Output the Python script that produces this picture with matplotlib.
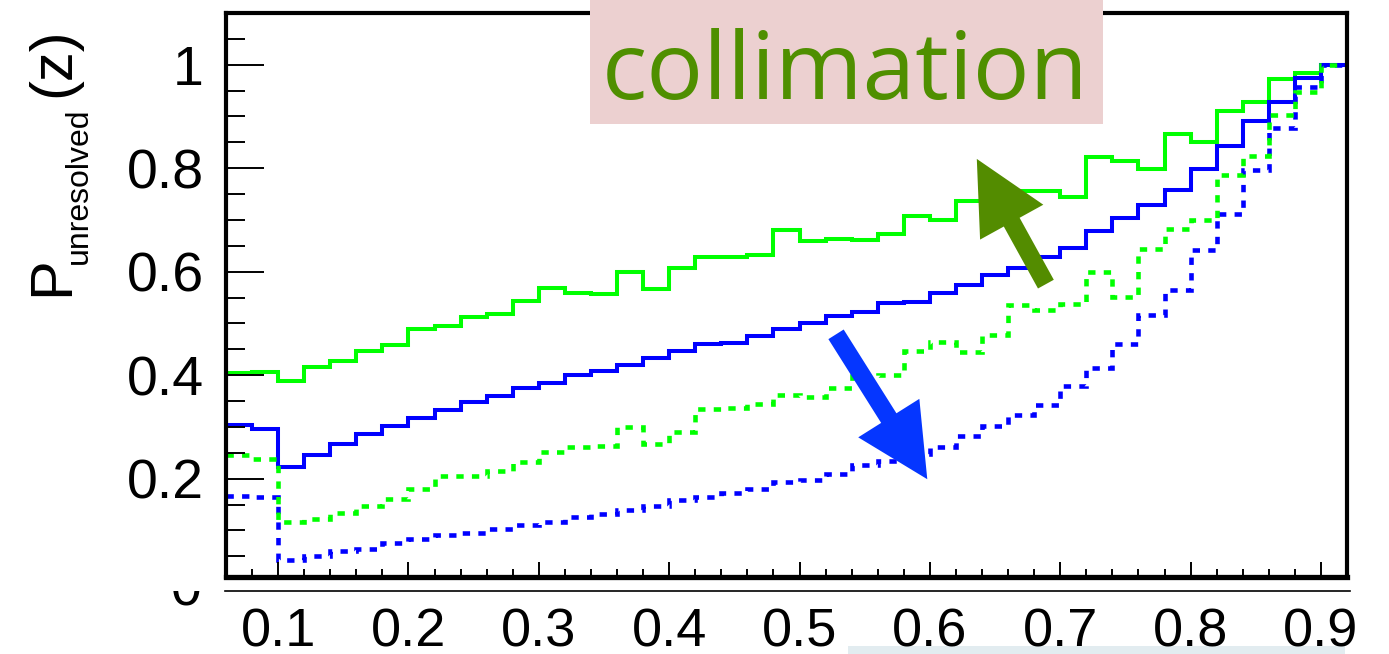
import numpy as np
import matplotlib
matplotlib.use("Agg")
import matplotlib.pyplot as plt
from matplotlib.patches import Rectangle, FancyArrowPatch, ArrowStyle
from matplotlib.lines import Line2D
from matplotlib.ticker import FixedLocator, FixedFormatter, MultipleLocator
from matplotlib.transforms import Bbox

plt.rcParams['font.family'] = ['Liberation Sans', 'DejaVu Sans']

# z bins: 0.02 wide from 0.06 to 0.92
z_edges = np.linspace(0.06, 0.92, 44)

green_solid = [0.405, 0.407, 0.389, 0.416, 0.427, 0.446, 0.459, 0.490, 0.495, 0.512,
               0.518, 0.544, 0.569, 0.559, 0.556, 0.600, 0.566, 0.608, 0.628, 0.628,
               0.633, 0.681, 0.659, 0.664, 0.662, 0.672, 0.707, 0.699, 0.736, 0.750,
               0.756, 0.756, 0.745, 0.821, 0.814, 0.798, 0.866, 0.851, 0.911, 0.928,
               0.973, 0.984, 1.000]
blue_solid = [0.304, 0.296, 0.223, 0.245, 0.267, 0.286, 0.302, 0.318, 0.333, 0.348,
              0.360, 0.375, 0.385, 0.400, 0.409, 0.419, 0.433, 0.446, 0.461, 0.463,
              0.475, 0.490, 0.501, 0.514, 0.523, 0.540, 0.542, 0.559, 0.575, 0.594,
              0.608, 0.629, 0.645, 0.678, 0.704, 0.729, 0.758, 0.799, 0.843, 0.891,
              0.928, 0.974, 1.000]
green_dotted = [0.245, 0.239, 0.117, 0.123, 0.133, 0.148, 0.160, 0.181, 0.206, 0.206,
                0.215, 0.233, 0.252, 0.261, 0.263, 0.300, 0.268, 0.291, 0.335, 0.337,
                0.344, 0.361, 0.357, 0.376, 0.398, 0.400, 0.447, 0.464, 0.444, 0.477,
                0.535, 0.526, 0.538, 0.599, 0.551, 0.644, 0.683, 0.700, 0.786, 0.823,
                0.903, 0.948, 1.000]
blue_dotted = [0.167, 0.164, 0.043, 0.050, 0.060, 0.065, 0.076, 0.084, 0.091, 0.096,
               0.102, 0.111, 0.116, 0.126, 0.132, 0.139, 0.147, 0.158, 0.165, 0.173,
               0.180, 0.193, 0.198, 0.210, 0.226, 0.235, 0.248, 0.261, 0.283, 0.302,
               0.324, 0.342, 0.379, 0.413, 0.461, 0.516, 0.564, 0.642, 0.712, 0.797,
               0.878, 0.957, 1.000]

x_ticks = [0.1, 0.2, 0.3, 0.4, 0.5, 0.6, 0.7, 0.8, 0.9]
x_labels = ['0.1', '0.2', '0.3', '0.4', '0.5', '0.6', '0.7', '0.8', '0.9']
y_ticks = [0.2, 0.4, 0.6, 0.8, 1.0]
y_labels = ['0.2', '0.4', '0.6', '0.8', '1']

W, H = 1389, 654


def fx(px):
    return px / W


def fy(py):
    return 1 - py / H


fig = plt.figure(figsize=(W / 100, H / 100), dpi=100)
ax = fig.add_axes([fx(226), fy(577), (1347 - 226) / W, (577 - 13) / H])

dots = (0, (1.6, 1.8))
ax.stairs(green_solid, z_edges, baseline=None, color='#00ff00', lw=2.9)
ax.stairs(blue_solid, z_edges, baseline=None, color='#0000ff', lw=2.9)
ax.stairs(blue_dotted, z_edges, baseline=None, color='#0000ff', lw=3.3, ls=dots)
ax.stairs(green_dotted, z_edges, baseline=None, color='#00ff00', lw=3.3, ls=dots)

ax.set_xlim(0.06, 0.92)
ax.set_ylim(0.01, 1.1)

ax.xaxis.set_major_locator(FixedLocator(x_ticks))
ax.xaxis.set_major_formatter(FixedFormatter(x_labels))
ax.xaxis.set_minor_locator(MultipleLocator(0.02))
ax.yaxis.set_major_locator(FixedLocator(y_ticks))
ax.yaxis.set_major_formatter(FixedFormatter(y_labels))
ax.yaxis.set_minor_locator(MultipleLocator(0.05))

ax.tick_params(axis='y', which='major', direction='in', length=27, width=1.4,
               pad=16, labelsize=40)
ax.tick_params(axis='y', which='minor', direction='in', length=14, width=1.4)
ax.tick_params(axis='x', which='major', direction='in', length=11, width=1.4,
               pad=22, labelsize=39)
ax.tick_params(axis='x', which='minor', direction='in', length=5.5, width=1.4)
ax.tick_params(top=False, right=False, which='both')

for side in ['left', 'right', 'top']:
    ax.spines[side].set_linewidth(3.0)
ax.spines['bottom'].set_linewidth(3.8)

# arrows showing the trend with collimation
green_arrow = FancyArrowPatch((0.689, 0.576), (0.636, 0.818),
                              arrowstyle=ArrowStyle.Simple(head_length=52, head_width=52, tail_width=13),
                              mutation_scale=1, shrinkA=0, shrinkB=0,
                              color='#538c00', lw=0, zorder=5)
blue_arrow = FancyArrowPatch((0.528, 0.479), (0.598, 0.199),
                             arrowstyle=ArrowStyle.Simple(head_length=52, head_width=52, tail_width=13),
                             mutation_scale=1, shrinkA=0, shrinkB=0,
                             color='#0536ff', lw=0, zorder=5)
ax.add_patch(green_arrow)
ax.add_patch(blue_arrow)

# label box at the top
fig.add_artist(Rectangle((fx(590), fy(124)), (1103 - 590) / W, 124 / H + 0.01,
                         transform=fig.transFigure, facecolor='#ecd0d0',
                         edgecolor='none', zorder=2))
fig.text(fx(845), fy(99), 'collimation', ha='center', va='baseline',
         fontsize=68, family='Open Sans', color='#4f8f00', zorder=3)

# y axis title: P_unresolved(z)
fig.text(fx(68), fy(296), 'P', rotation=90, rotation_mode='anchor',
         ha='left', va='baseline', fontsize=43)
fig.text(fx(87), fy(264), 'unresolved', rotation=90, rotation_mode='anchor',
         ha='left', va='baseline', fontsize=23)
fig.text(fx(69), fy(97), '(z)', rotation=90, rotation_mode='anchor',
         ha='left', va='baseline', fontsize=43)

# lower pad edge and the partly hidden zero label
fig.add_artist(Line2D([fx(225), fx(1350)], [fy(591), fy(591)],
                      transform=fig.transFigure, color='black', lw=1.2))
zero = fig.text(fx(186), fy(605), '0', ha='center', va='baseline', fontsize=40)
zero.set_clip_box(Bbox.from_extents(0, 0, W, H - 591))
zero.set_clip_on(True)

fig.add_artist(Rectangle((fx(848), 0), (1345 - 848) / W, 8 / H,
                         transform=fig.transFigure, facecolor='#e2ecf0',
                         edgecolor='none', zorder=-1))

fig.savefig('out.png', dpi=100)
